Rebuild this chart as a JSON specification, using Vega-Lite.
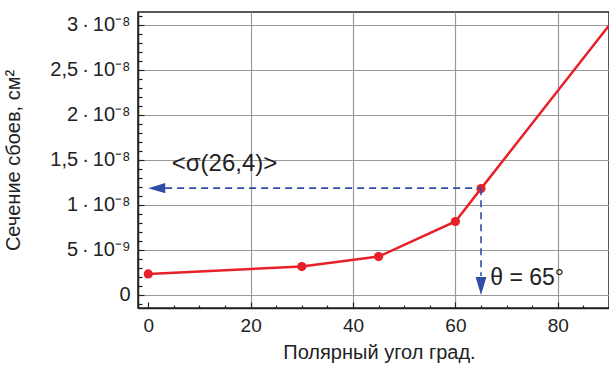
{
  "$schema": "https://vega.github.io/schema/vega-lite/v6.json",
  "autosize": {"type": "none"},
  "padding": {"left": 138, "top": 12, "right": 0, "bottom": 57},
  "width": 471,
  "height": 296,
  "background": "white",
  "config": {
    "font": "Liberation Sans",
    "view": {"stroke": "#222", "strokeWidth": 1.5},
    "axis": {
      "domainColor": "#222",
      "domainWidth": 1.5,
      "tickColor": "#222",
      "tickWidth": 1.2,
      "labelColor": "#222",
      "titleColor": "#222",
      "labelFontSize": 19,
      "titleFontSize": 20,
      "titleFontWeight": "normal",
      "labelOverlap": false,
      "tickCount": 200,
      "gridColor": "#9a9a9a",
      "gridWidth": 1.2
    }
  },
  "datasets": {
    "curve": [
      {"x": 0, "y": 2.33e-9},
      {"x": 30, "y": 3.15e-9},
      {"x": 45, "y": 4.26e-9},
      {"x": 60, "y": 8.15e-9},
      {"x": 65, "y": 1.18e-8},
      {"x": 90, "y": 2.99e-8}
    ],
    "guides": [
      {"x": 3.3, "x2": 65, "y": 1.185e-8, "y2": 1.185e-8},
      {"x": 65, "x2": 65, "y": 1.185e-8, "y2": 2.1e-9}
    ],
    "headsLeft": [{"x": 0, "y": 1.185e-8}],
    "headsDown": [{"x": 65, "y": 0}],
    "notes": [
      {"x": 4.6, "y": 1.38e-8, "text": "<σ(26,4)>", "size": 24},
      {"x": 66.8, "y": 1.1e-9, "text": "θ = 65°", "size": 23}
    ]
  },
  "layer": [
    {
      "data": {"name": "curve"},
      "mark": {"type": "line", "color": "#E8202A", "strokeWidth": 2.5},
      "encoding": {
        "x": {
          "field": "x",
          "type": "quantitative",
          "scale": {"domain": [-2, 90], "nice": false, "zero": false},
          "axis": {
            "title": "Полярный угол град.",
            "titlePadding": 4,
            "titleX": 241,
            "titleAnchor": "start",
            "titleAlign": "center",
            "values": [0, 5, 10, 15, 20, 25, 30, 35, 40, 45, 50, 55, 60, 65, 70, 75, 80, 85, 90],
            "labelExpr": "datum.value % 20 == 0 ? format(datum.value, 'd') : ''",
            "tickSize": {"condition": {"test": "datum.value % 20 == 0", "value": -6}, "value": -3},
            "labelPadding": 14,
            "grid": true,
            "gridOpacity": {"condition": {"test": "datum.value % 20 == 0 && datum.value > 0", "value": 1}, "value": 0}
          }
        },
        "y": {
          "field": "y",
          "type": "quantitative",
          "scale": {"domain": [-1.45e-9, 3.14e-8], "nice": false, "zero": false},
          "axis": {
            "title": "Сечение сбоев, см²",
            "titlePadding": 26,
            "labelFontSize": 20,
            "values": [-1e-9, 0, 1e-9, 2e-9, 3e-9, 4e-9, 5e-9, 6e-9, 7e-9, 8e-9, 9e-9, 1e-8, 1.1e-8, 1.2e-8, 1.3e-8, 1.4e-8, 1.5e-8, 1.6e-8, 1.7e-8, 1.8e-8, 1.9e-8, 2e-8, 2.1e-8, 2.2e-8, 2.3e-8, 2.4e-8, 2.5e-8, 2.6e-8, 2.7e-8, 2.8e-8, 2.9e-8, 3e-8, 3.1e-8],
            "labelExpr": "abs(datum.value/5e-9 - round(datum.value/5e-9)) > 0.01 ? '' : (abs(datum.value) < 1e-12 ? '0' : (datum.value < 7e-9 ? '5\u2009·\u200910⁻⁹' : replace(format(datum.value*1e8, '.2~r'), '.', ',') + '\u2009·\u200910⁻⁸'))",
            "tickSize": {"condition": {"test": "abs(datum.value/5e-9 - round(datum.value/5e-9)) < 0.01", "value": -6}, "value": -4},
            "labelPadding": 14,
            "grid": true,
            "gridOpacity": {"condition": {"test": "abs(datum.value/5e-9 - round(datum.value/5e-9)) < 0.01", "value": 1}, "value": 0}
          }
        }
      }
    },
    {
      "data": {"name": "curve"},
      "transform": [{"filter": "datum.x < 90"}],
      "mark": {"type": "point", "filled": true, "color": "#E8202A", "size": 85, "opacity": 1},
      "encoding": {
        "x": {"field": "x", "type": "quantitative"},
        "y": {"field": "y", "type": "quantitative"}
      }
    },
    {
      "data": {"name": "guides"},
      "mark": {"type": "rule", "color": "#2F4DA8", "strokeWidth": 1.6, "strokeDash": [7, 5]},
      "encoding": {
        "x": {"field": "x", "type": "quantitative"},
        "x2": {"field": "x2"},
        "y": {"field": "y", "type": "quantitative"},
        "y2": {"field": "y2"}
      }
    },
    {
      "data": {"name": "headsLeft"},
      "mark": {"type": "point", "filled": true, "color": "#2F4DA8", "opacity": 1, "shape": "M0,0L2,-0.6L2,0.6Z", "size": 289},
      "encoding": {
        "x": {"field": "x", "type": "quantitative"},
        "y": {"field": "y", "type": "quantitative"}
      }
    },
    {
      "data": {"name": "headsDown"},
      "mark": {"type": "point", "filled": true, "color": "#2F4DA8", "opacity": 1, "shape": "M0,0L-0.6,-2L0.6,-2Z", "size": 324},
      "encoding": {
        "x": {"field": "x", "type": "quantitative"},
        "y": {"field": "y", "type": "quantitative"}
      }
    },
    {
      "data": {"name": "notes"},
      "mark": {"type": "text", "align": "left", "baseline": "alphabetic", "color": "#222"},
      "encoding": {
        "x": {"field": "x", "type": "quantitative"},
        "y": {"field": "y", "type": "quantitative"},
        "text": {"field": "text"},
        "size": {"field": "size", "type": "quantitative", "scale": null}
      }
    }
  ]
}
